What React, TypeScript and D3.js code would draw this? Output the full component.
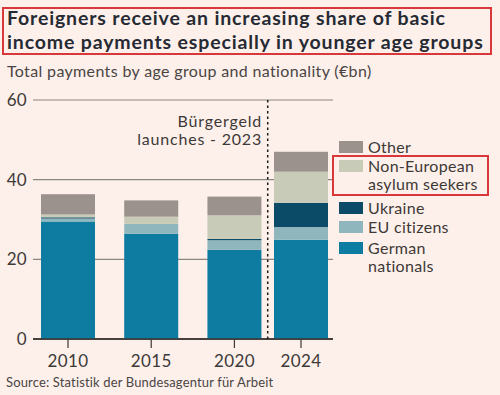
import React from "react";
import * as d3 from "d3";

const years = [2010, 2015, 2020, 2024];
const seriesKeys = ["german", "eu", "ukraine", "nonEu", "other"];
const seriesLabels = [["German", "nationals"], ["EU citizens"], ["Ukraine"], ["Non-European", "asylum seekers"], ["Other"]];
const german = [29.5, 26.4, 22.4, 24.9];
const eu = [0.75, 2.5, 2.4, 3.2];
const ukraine = [0.3, 0, 0.35, 6.1];
const nonEu = [0.7, 1.8, 5.9, 7.8];
const other = [5.1, 4.1, 4.7, 5.0];
const yTicks = [0, 20, 40, 60];
const launchYear = 2022;
const launchLabel = ["Bürgergeld", "launches - 2023"];
const titleLines = ["Foreigners receive an increasing share of basic", "income payments especially in younger age groups"];

const colors: Record<string, string> = {
  german: "#0e7ba1",
  eu: "#90b6bd",
  ukraine: "#0b4b67",
  nonEu: "#c8cbb7",
  other: "#9b928d",
};

const W = 500;
const H = 395;
const FONT = "Lato, 'Noto Sans', sans-serif";

export default function App() {
  const rows = years.map((y, i) => ({
    year: y,
    german: german[i],
    eu: eu[i],
    ukraine: ukraine[i],
    nonEu: nonEu[i],
    other: other[i],
  }));
  const stack = d3.stack<any>().keys(seriesKeys)(rows);
  const x = d3.scaleLinear().domain([2010, 2024]).range([68, 301]);
  const y = d3.scaleLinear().domain([0, 60]).range([339, 100]);
  const barW = 54;
  const gridX0 = 33;
  const gridX1 = 333;
  const legendOrder = [4, 3, 2, 1, 0];
  const legendY: Record<string, number> = { other: 141, nonEu: 160, ukraine: 202, eu: 221, german: 242 };
  return (
    <svg
      width={W}
      height={H}
      style={{ position: "absolute", left: 0, top: 0, display: "block", background: "#fdf0eb" }}
      fontFamily={FONT}
    >
      <rect x={0} y={0} width={W} height={H} fill="#fdf0eb" />
      {/* title */}
      <text fontSize={19.5} fontWeight={700} letterSpacing={0.85} fill="#262a33">
        {titleLines.map((l, i) => (
          <tspan key={i} x={7} y={25 + i * 23.5}>
            {l}
          </tspan>
        ))}
      </text>
      <rect x={3} y={8} width={488} height={46} fill="none" stroke="#d9383a" strokeWidth={2} />
      <text x={7} y={77} fontSize={16} letterSpacing={0.35} fill="#4a4543">
        Total payments by age group and nationality (€bn)
      </text>
      {/* grid */}
      {yTicks.map((t) => (
        <g key={t}>
          <line x1={gridX0} x2={gridX1} y1={y(t)} y2={y(t)} stroke={t === 0 ? "#3a3635" : "#8c8682"} strokeWidth={t === 0 ? 1.5 : 1.2} />
          <text x={27} y={y(t)} dy="0.35em" textAnchor="end" fontSize={17} letterSpacing={0.3} fill="#3d3937">
            {t}
          </text>
        </g>
      ))}
      {/* bars */}
      {stack.map((s) => (
        <g key={s.key} fill={colors[s.key]}>
          {s.map((d: any, i: number) => (
            <rect key={i} x={x(d.data.year) - barW / 2} width={barW} y={y(d[1])} height={Math.max(0, y(d[0]) - y(d[1]))} />
          ))}
        </g>
      ))}
      {/* axis line redraw */}
      <line x1={gridX0} x2={gridX1} y1={y(0)} y2={y(0)} stroke="#3a3635" strokeWidth={1.5} />
      {years.map((yr) => (
        <g key={yr}>
          <line x1={x(yr)} x2={x(yr)} y1={y(0)} y2={y(0) + 9} stroke="#3a3635" strokeWidth={1.2} />
          <text x={x(yr)} y={367} textAnchor="middle" fontSize={17} letterSpacing={0.4} fill="#3d3937">
            {yr}
          </text>
        </g>
      ))}
      {/* launch divider */}
      <line x1={x(launchYear)} x2={x(launchYear)} y1={y(60)} y2={y(0)} stroke="#1a1a1a" strokeWidth={1.5} strokeDasharray="2.5,3" />
      {launchLabel.map((l, i) => (
        <text key={i} x={262} y={127 + i * 18} textAnchor="end" fontSize={16} letterSpacing={0.8} fill="#3d3937">
          {l}
        </text>
      ))}
      {/* legend */}
      {legendOrder.map((idx) => {
        const k = seriesKeys[idx];
        const ly = legendY[k];
        return (
          <g key={k}>
            <rect x={339} y={ly} width={24} height={12} fill={colors[k]} />
            {seriesLabels[idx].map((l, j) => (
              <text key={j} x={368} y={ly + 12 + j * 18} fontSize={16} letterSpacing={0.3} fill="#3d3937">
                {l}
              </text>
            ))}
          </g>
        );
      })}
      <rect x={333} y={156} width={155} height={39} fill="none" stroke="#d9383a" strokeWidth={2} />
      <text x={6} y={387} fontSize={13} letterSpacing={0.15} fill="#4a4543">
        Source: Statistik der Bundesagentur für Arbeit
      </text>
    </svg>
  );
}
